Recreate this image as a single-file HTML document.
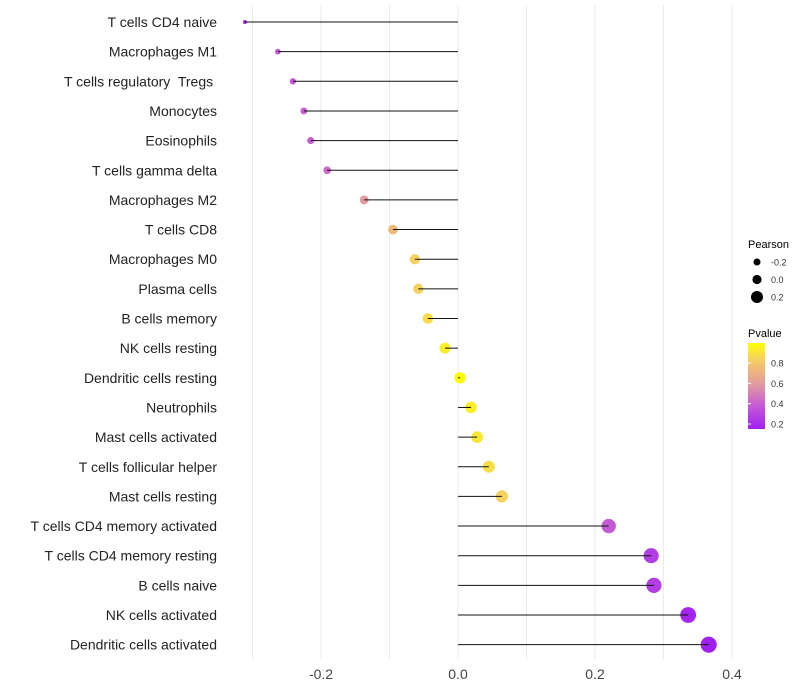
<!DOCTYPE html>
<html><head><meta charset="utf-8"><style>
body{margin:0;background:#fff;}
svg{display:block;font-family:"Liberation Sans",sans-serif;}
text{white-space:pre;}
</style></head><body>
<svg id="chart" width="800" height="700"></svg>
<script>
const categories=["T cells CD4 naive","Macrophages M1","T cells regulatory  Tregs ","Monocytes","Eosinophils","T cells gamma delta","Macrophages M2","T cells CD8","Macrophages M0","Plasma cells","B cells memory","NK cells resting","Dendritic cells resting","Neutrophils","Mast cells activated","T cells follicular helper","Mast cells resting","T cells CD4 memory activated","T cells CD4 memory resting","B cells naive","NK cells activated","Dendritic cells activated"];
const pearson=[-0.311,-0.263,-0.241,-0.225,-0.215,-0.191,-0.137,-0.095,-0.063,-0.058,-0.044,-0.019,0.003,0.019,0.028,0.045,0.064,0.220,0.282,0.286,0.336,0.366];
const pvalue=[0.17,0.38,0.38,0.39,0.40,0.43,0.60,0.75,0.85,0.85,0.88,0.94,1.0,0.94,0.92,0.89,0.85,0.38,0.27,0.27,0.18,0.16];
const xTicks=[-0.2,0.0,0.2,0.4];
const gridVals=[-0.3,-0.2,-0.1,0,0.1,0.2,0.3,0.4];
const NS="http://www.w3.org/2000/svg";
const svg=document.getElementById('chart');
const xS=v=>458+v*685;
const yS=i=>22+i*29.65;
const rS=v=>Math.sqrt(Math.max(1,32+90*v));
const cStops=[[0.16,[160,32,240]],[0.4,[200,95,210]],[0.6,[225,155,160]],[0.75,[240,185,120]],[0.85,[245,210,95]],[1.0,[255,255,0]]];
function col(p){p=Math.max(0.16,Math.min(1,p));
for(let k=1;k<cStops.length;k++){if(p<=cStops[k][0]){const a=cStops[k-1],b=cStops[k];const t=(p-a[0])/(b[0]-a[0]);
return `rgb(${a[1].map((c,j)=>Math.round(c+(b[1][j]-c)*t)).join(',')})`;}}
return 'rgb(255,255,0)';}
function el(tag,attrs,txt){const e=document.createElementNS(NS,tag);for(const k in attrs)e.setAttribute(k,attrs[k]);if(txt!=null)e.textContent=txt;svg.appendChild(e);return e;}
gridVals.forEach(v=>{const g=el('line',{x1:xS(v),x2:xS(v),y1:5,y2:660,stroke:'#ebebeb','stroke-width':1});

});
xTicks.forEach(v=>{const t=el('text',{x:xS(v),y:679,'text-anchor':'middle','font-size':14,fill:'#444'},v.toFixed(1));

});
categories.forEach((c,i)=>{const y=yS(i);
const t=el('text',{x:217,y:y+5,'text-anchor':'end','font-size':14,fill:'#222'},c);


const d=el('circle',{cx:xS(pearson[i]),cy:y,r:rS(pearson[i]),fill:col(pvalue[i])});


const l=el('line',{x1:xS(0),x2:xS(pearson[i]),y1:y,y2:y,stroke:'#111','stroke-width':1});


});
const lt=el('text',{x:748,y:248,'font-size':11,fill:'#000'},'Pearson');


[-0.2,0,0.2].forEach((v,k)=>{const y=262+k*17.5;
const c=el('circle',{cx:757,cy:y,r:[3.5,4.6,6][k],fill:'#000'});


const t=el('text',{x:771,y:y+3.5,'font-size':9,fill:'#333'},v.toFixed(1));

});
const pt=el('text',{x:748,y:337,'font-size':11,fill:'#000'},'Pvalue');


const defs=el('defs',{});
defs.innerHTML='<linearGradient id="pg" x1="0" y1="1" x2="0" y2="0"><stop offset="0" stop-color="rgb(160,32,240)"/><stop offset="0.29" stop-color="rgb(200,95,210)"/><stop offset="0.52" stop-color="rgb(225,155,160)"/><stop offset="0.7" stop-color="rgb(240,185,120)"/><stop offset="0.82" stop-color="rgb(245,210,95)"/><stop offset="1" stop-color="rgb(255,255,0)"/></linearGradient>';
const cb=el('rect',{x:748,y:343,width:17,height:86,fill:'url(#pg)'});


[0.2,0.4,0.6,0.8].forEach(v=>{const y=424-(v-0.2)/0.2*20.3;
const tk=el('line',{x1:748,x2:751,y1:y,y2:y,stroke:'#fff'});


const t=el('text',{x:771,y:y+3.5,'font-size':9,fill:'#333'},v.toFixed(1));

});
</script>
</body></html>
